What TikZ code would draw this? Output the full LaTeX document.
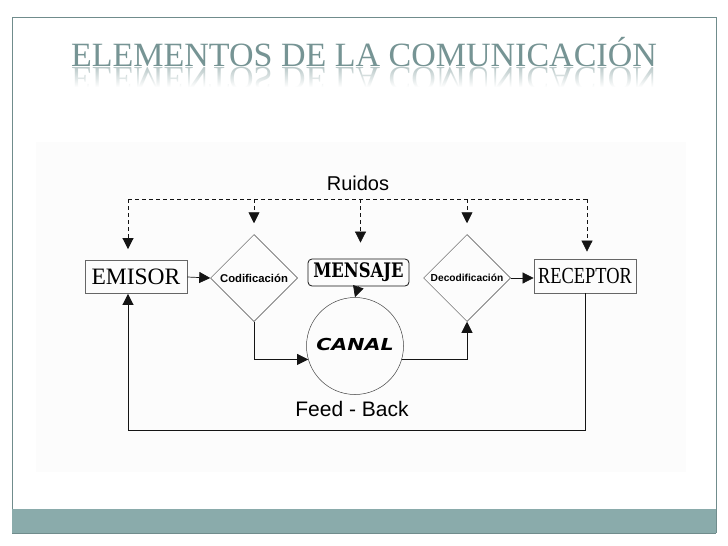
\documentclass[tikz,border=0pt]{standalone}
\usepackage{fontspec}
\setmainfont{Liberation Serif}
\newfontfamily\lsans{Liberation Sans}
\newfontfamily\heavyserif{DejaVu Serif}
\newfontfamily\heavysans{DejaVu Sans}
\usetikzlibrary{shapes.geometric,arrows.meta}
\definecolor{titlecol}{RGB}{118,148,148}
\definecolor{barcol}{RGB}{138,171,171}
\definecolor{framecol}{RGB}{112,140,140}
\definecolor{linecol}{RGB}{20,20,20}
\tikzset{
  box/.style={draw=linecol!65, line width=0.8pt, inner sep=0pt},
  diam/.style={draw=linecol!80, line width=0.5pt, diamond, aspect=1, inner sep=0pt, minimum width=87pt, minimum height=87pt, font=\lsans\bfseries\fontsize{11.3}{12}\selectfont},
  conn/.style={draw=linecol, line width=0.7pt, -{Triangle[width=11pt,length=11pt]}},
  noise/.style={draw=linecol, line width=0.7pt, dash pattern=on 4pt off 3pt, -{Triangle[width=11pt,length=11pt]}},
  plain/.style={draw=linecol, line width=0.7pt}
}
\begin{document}
\begin{tikzpicture}[x=1pt,y=-1pt]
\useasboundingbox (0,0) rectangle (728,546);
\fill[white] (0,0) rectangle (728,546);
% frame and bar
\draw[framecol, line width=0.8pt] (12,533) -- (12,17) -- (716,17) -- (716,533);
\fill[barcol] (12,509) rectangle (716,533);
\draw[framecol, line width=0.8pt] (12,533) -- (716,533);
% panel
\fill[black!1.2] (36,142) rectangle (686,472);
% title
\node[anchor=base, text=titlecol, font=\fontsize{34}{40}\selectfont] (title) at (364,66) {ELEMENTOS DE LA COMUNICACIÓN};
\begin{scope}
\clip (60,67) rectangle (670,87);
\node[anchor=base, text=titlecol!50, font=\fontsize{34}{40}\selectfont] (refl) at (364,67.5) {\scalebox{1}[-1]{ELEMENTOS DE LA COMUNICACIÓN}};
\foreach \i in {0,...,20} {
  \fill[white, opacity=\i/20] (60,67+\i) rectangle (670,68.2+\i);
}
\end{scope}
% nodes
\node[box, minimum width=102pt, minimum height=33pt, font=\fontsize{23.5}{26}\selectfont] (emisor) at (136,277) {EMISOR};
\node[diam] (cod) at (254,278) {Codificación};
\node[box, draw=linecol, rounded corners=4pt, minimum width=101pt, minimum height=27pt, font=\heavyserif\bfseries\fontsize{20}{22}\selectfont] (mensaje) at (358.5,272.5) {\scalebox{0.82}[1]{MENSAJE}};
\node[diam, font=\lsans\bfseries\fontsize{10.2}{11}\selectfont] (dec) at (467,278) {Decodificación};
\node[box, minimum width=102pt, minimum height=34pt, font=\fontsize{23}{26}\selectfont] (receptor) at (585,276) {\scalebox{0.8}[1]{RECEPTOR}};
\node[circle, draw=linecol!80, line width=0.5pt, minimum size=97pt, inner sep=0pt, font=\heavysans\bfseries\itshape\fontsize{16.5}{20}\selectfont] (canal) at (355,346) {\raisebox{3pt}{\scalebox{1.25}[1]{CANAL}}};
\node[font=\lsans\fontsize{20}{24}\selectfont] (ruidos) at (358,183) {Ruidos};
\node[font=\lsans\fontsize{21}{24}\selectfont] (feed) at (352,409) {Feed - Back};
% noise line
\coordinate (rL) at (128,199);
\coordinate (rR) at (587,199);
\draw[plain, dash pattern=on 4pt off 3pt] (rL) -- (rR);
\draw[noise, shorten >=11pt] (rL) -- (rL |- emisor.north);
\draw[noise, shorten >=11pt] (cod.north |- rL) -- (cod.north);
\draw[noise, shorten >=16pt] ([xshift=2pt]mensaje.north |- rL) -- ([xshift=2pt]mensaje.north);
\draw[noise, shorten >=11pt] (dec.north |- rL) -- (dec.north);
\draw[noise, shorten >=7pt] (rR) -- (rR |- receptor.north);
% flow
\draw[conn] (emisor.east) -- (cod.west);
\draw[conn] (dec.east) -- (dec.east -| receptor.west);
\draw[conn] (mensaje.south) -- (canal.north);
\draw[conn] (cod.south) |- (canal.196);
\draw[conn] (canal.344) -| (dec.south);
% feedback
\coordinate (fbL) at (128,430);
\draw[conn] (receptor.south) |- (fbL) -- (fbL |- emisor.south);
\end{tikzpicture}
\end{document}
